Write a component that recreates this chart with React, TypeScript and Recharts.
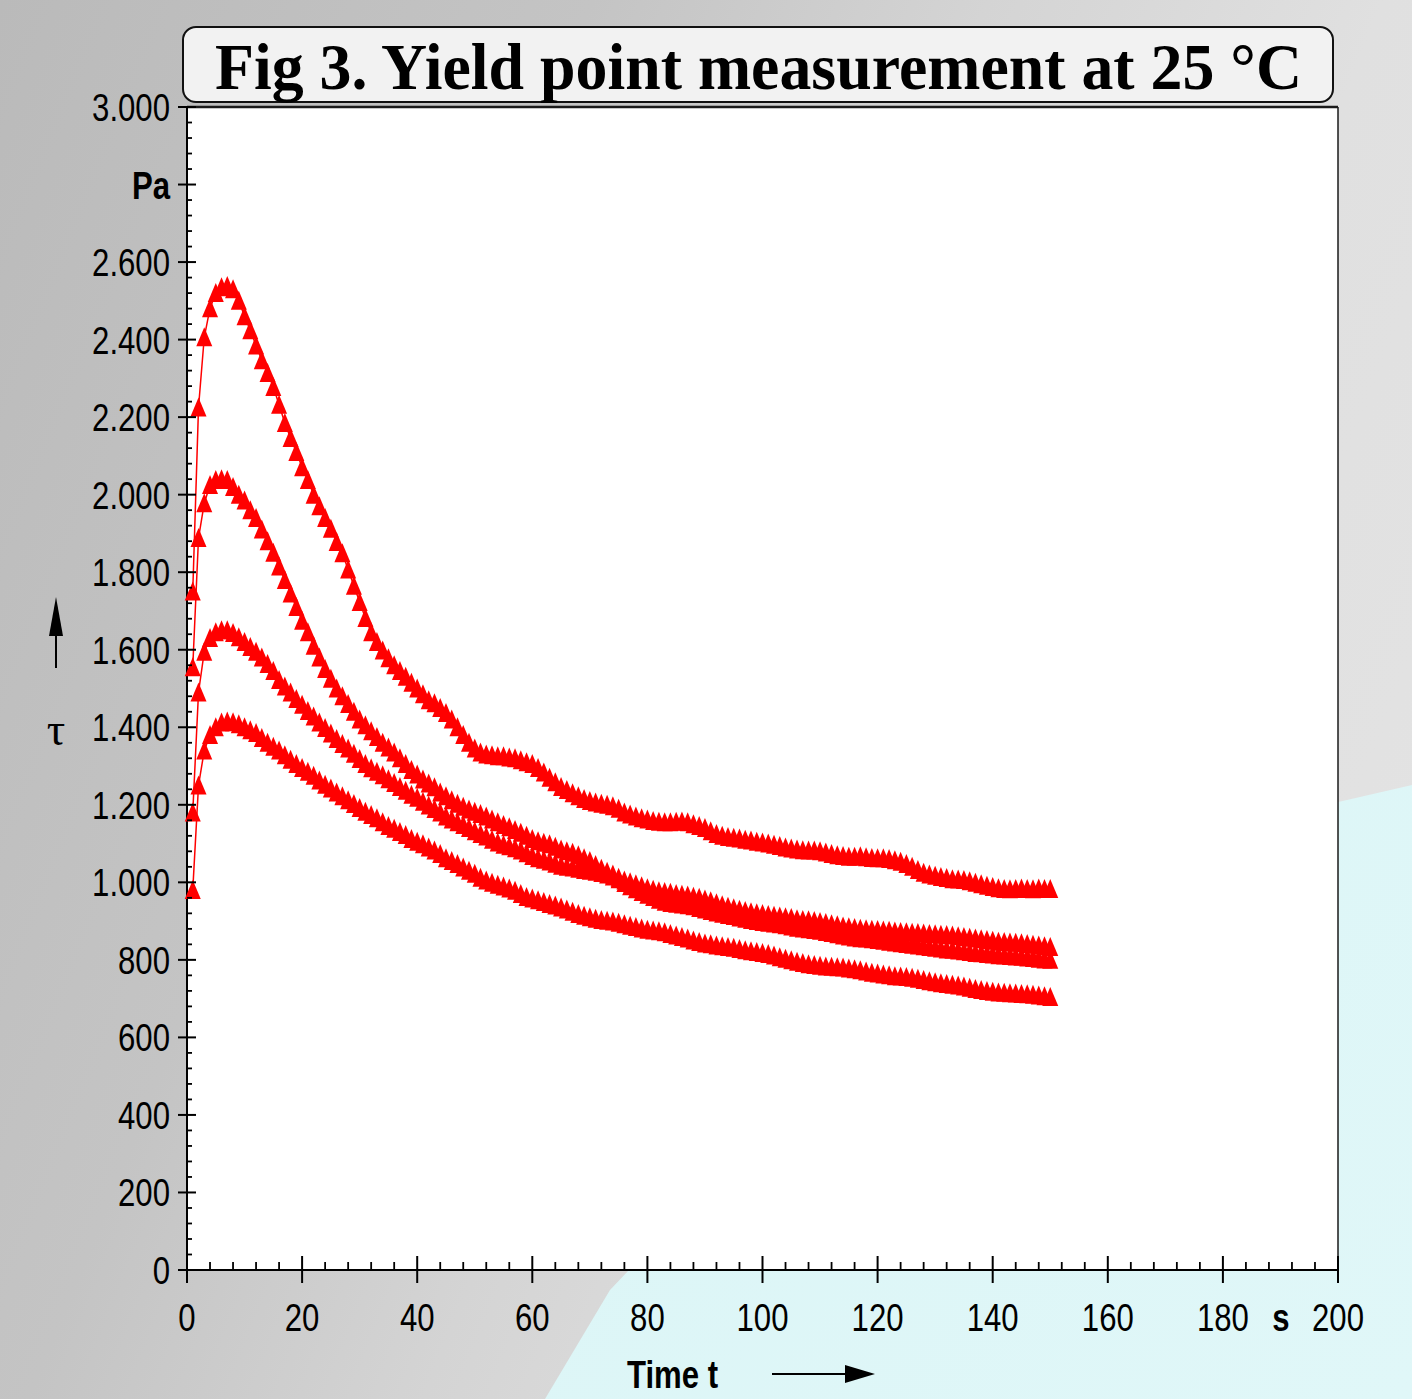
import React from "react";
import { LineChart, Line, XAxis, YAxis, CartesianGrid, ReferenceLine } from "recharts";

// time in s
const TIME = [
  1, 2, 3, 4, 5, 6, 7, 8, 9, 10, 11, 12, 13, 14, 15, 16, 17, 18, 19, 20,
  21, 22, 23, 24, 25, 26, 27, 28, 29, 30, 31, 32, 33, 34, 35, 36, 37, 38, 39, 40,
  41, 42, 43, 44, 45, 46, 47, 48, 49, 50, 51, 52, 53, 54, 55, 56, 57, 58, 59, 60,
  61, 62, 63, 64, 65, 66, 67, 68, 69, 70, 71, 72, 73, 74, 75, 76, 77, 78, 79, 80,
  81, 82, 83, 84, 85, 86, 87, 88, 89, 90, 91, 92, 93, 94, 95, 96, 97, 98, 99, 100,
  101, 102, 103, 104, 105, 106, 107, 108, 109, 110, 111, 112, 113, 114, 115, 116, 117, 118, 119, 120,
  121, 122, 123, 124, 125, 126, 127, 128, 129, 130, 131, 132, 133, 134, 135, 136, 137, 138, 139, 140,
  141, 142, 143, 144, 145, 146, 147, 148, 149, 150,
];

// shear stress tau in Pa, four runs
const RUN_1 = [
  980, 1250, 1340, 1380, 1400, 1412, 1415, 1413, 1408, 1400,
  1392, 1385, 1372, 1360, 1350, 1340, 1328, 1316, 1305, 1295,
  1285, 1275, 1263, 1252, 1242, 1232, 1222, 1212, 1202, 1192,
  1182, 1174, 1165, 1155, 1145, 1138, 1130, 1122, 1112, 1105,
  1098, 1090, 1082, 1073, 1062, 1055, 1047, 1038, 1030, 1022,
  1012, 1005, 999, 994, 989, 984, 978, 970, 962, 958,
  954, 949, 944, 940, 935, 930, 924, 918, 914, 910,
  906, 903, 901, 899, 896, 892, 888, 885, 881, 878,
  876, 874, 871, 867, 863, 859, 855, 850, 846, 842,
  840, 837, 835, 833, 831, 828, 825, 822, 820, 818,
  815, 811, 807, 803, 799, 795, 792, 789, 787, 785,
  783, 782, 781, 780, 778, 776, 773, 770, 767, 765,
  762, 760, 758, 757, 756, 754, 751, 748, 745, 742,
  740, 738, 736, 734, 731, 728, 725, 722, 720, 718,
  716, 715, 714, 713, 712, 711, 710, 708, 706, 704,
];

const RUN_2 = [
  1180, 1490, 1595, 1630, 1645, 1650, 1650, 1643, 1632, 1620,
  1607, 1595, 1580, 1563, 1545, 1522, 1505, 1490, 1473, 1458,
  1442, 1428, 1412, 1398, 1384, 1370, 1357, 1345, 1332, 1318,
  1305, 1294, 1285, 1276, 1266, 1256, 1246, 1236, 1226, 1218,
  1208, 1198, 1189, 1180, 1170, 1162, 1155, 1148, 1140, 1132,
  1125, 1118, 1110, 1103, 1097, 1093, 1088, 1082, 1075, 1068,
  1062, 1058, 1054, 1048, 1043, 1040, 1038, 1035, 1032, 1030,
  1027, 1024, 1020, 1015, 1008, 998, 990, 982, 975, 968,
  962, 955, 950, 947, 945, 943, 941, 938, 934, 930,
  926, 922, 919, 916, 913, 909, 906, 903, 900, 898,
  896, 894, 892, 889, 886, 883, 881, 879, 877, 875,
  872, 869, 866, 863, 860, 858, 856, 855, 853, 851,
  849, 847, 845, 843, 841, 839, 837, 835, 833, 831,
  829, 827, 826, 824, 822, 820, 818, 817, 815, 814,
  812, 811, 810, 809, 808, 806, 805, 803, 801, 800,
];

const RUN_3 = [
  1555, 1888, 1978, 2025, 2038, 2040, 2038, 2020, 2000, 1985,
  1960, 1940, 1910, 1880, 1850, 1815, 1780, 1745, 1710, 1675,
  1645, 1610, 1580, 1550, 1525, 1500, 1480, 1460, 1440, 1420,
  1405, 1390, 1375, 1360, 1348, 1335, 1320, 1305, 1290, 1278,
  1265, 1255, 1245, 1232, 1222, 1212, 1203, 1195, 1188, 1182,
  1176, 1170, 1162, 1155, 1148, 1142, 1135, 1128, 1120, 1112,
  1106, 1102, 1098, 1092, 1085, 1080, 1076, 1070, 1062, 1055,
  1045, 1035, 1027, 1020, 1012, 1005, 1000, 995, 990, 985,
  981, 977, 975, 973, 970, 968, 966, 963, 960, 956,
  951, 946, 941, 937, 933, 929, 926, 923, 920, 918,
  916, 914, 912, 910, 908, 905, 903, 902, 900, 898,
  895, 892, 889, 886, 884, 882, 880, 879, 878, 877,
  876, 875, 873, 872, 871, 870, 869, 868, 867, 866,
  865, 864, 863, 861, 859, 857, 855, 853, 851, 849,
  847, 846, 845, 844, 843, 841, 839, 837, 835, 833,
];

const RUN_4 = [
  1750, 2225, 2406, 2481, 2520, 2535, 2538, 2530, 2500, 2460,
  2424, 2385, 2347, 2314, 2278, 2232, 2185, 2146, 2110, 2071,
  2038, 2000, 1970, 1940, 1912, 1878, 1849, 1807, 1765, 1723,
  1682, 1645, 1620, 1598, 1578, 1560, 1545, 1530, 1515, 1500,
  1485, 1470, 1462, 1450, 1437, 1420, 1400, 1380, 1360, 1345,
  1335, 1330, 1328, 1325, 1325, 1322, 1320, 1315, 1310, 1305,
  1295, 1283, 1270, 1258, 1246, 1238, 1230, 1222, 1215, 1210,
  1206, 1203, 1200, 1196, 1190, 1180, 1175, 1170, 1165, 1162,
  1158, 1156, 1155, 1155, 1156, 1157, 1155, 1150, 1145, 1140,
  1132, 1125, 1120, 1117, 1115, 1113, 1110, 1108, 1105, 1103,
  1100, 1097, 1094, 1090, 1087, 1085, 1083, 1082, 1082, 1080,
  1077, 1073, 1070, 1068, 1066, 1066, 1067, 1065, 1063, 1062,
  1062, 1060, 1057, 1053, 1047, 1040, 1032, 1025, 1020, 1017,
  1014, 1011, 1008, 1007, 1006, 1003, 999, 995, 991, 988,
  985, 983, 982, 983, 984, 983, 982, 984, 983, 983,
];

const Y_MAJOR = [0, 200, 400, 600, 800, 1000, 1200, 1400, 1600, 1800, 2000, 2200, 2400, 2600, 2800, 3000];
const Y_LABELS = ["0", "200", "400", "600", "800", "1.000", "1.200", "1.400", "1.600", "1.800", "2.000", "2.200", "2.400", "2.600", "Pa", "3.000"];
const X_MAJOR = [0, 20, 40, 60, 80, 100, 120, 140, 160, 180, 200];
const X_LABELS = ["0", "20", "40", "60", "80", "100", "120", "140", "160", "180", "200"];
const Y_STEP_MINOR = 40;
const X_STEP_MINOR = 4;

const Y_TICKS = Array.from({ length: 3000 / Y_STEP_MINOR + 1 }, (_, i) => i * Y_STEP_MINOR);
const X_TICKS = Array.from({ length: 200 / X_STEP_MINOR + 1 }, (_, i) => i * X_STEP_MINOR);

const data = TIME.map((t, i) => ({ t, r1: RUN_1[i], r2: RUN_2[i], r3: RUN_3[i], r4: RUN_4[i] }));

const SANS = "'Liberation Sans', Arial, sans-serif";
const SERIF = "'Liberation Serif', 'Times New Roman', serif";
const RED = "#ff0000";
const NARROW_SCALE = 0.82;

// condensed text: Liberation Sans squeezed horizontally (Arial Narrow look)
const NText = (p: any) => {
  const { x, y, anchor = "start", bold = false, size = 38, children } = p;
  return (
    <text
      transform={`translate(${x},${y}) scale(${NARROW_SCALE},1)`}
      x={0}
      y={0}
      textAnchor={anchor}
      fontFamily={SANS}
      fontSize={size}
      fontWeight={bold ? "bold" : "normal"}
      fill="#000"
    >
      {children}
    </text>
  );
};

const YTick = (props: any) => {
  const { x, y, payload } = props;
  const v = payload.value;
  const idx = Y_MAJOR.indexOf(v);
  if (idx < 0) {
    return <line x1={x} x2={x + 5} y1={y} y2={y} stroke="#000" strokeWidth={1.8} />;
  }
  const label = Y_LABELS[idx];
  return (
    <g>
      <line x1={x - 9} x2={x + 9} y1={y} y2={y} stroke="#000" strokeWidth={2} />
      <NText x={x - 17} y={y + 14} anchor="end" bold={label === "Pa"}>
        {label}
      </NText>
    </g>
  );
};

const XTick = (props: any) => {
  const { x, y, payload } = props;
  const v = payload.value;
  const idx = X_MAJOR.indexOf(v);
  if (idx < 0) {
    return <line x1={x} x2={x} y1={y - 8} y2={y} stroke="#000" strokeWidth={1.8} />;
  }
  return (
    <g>
      <line x1={x} x2={x} y1={y - 14} y2={y + 13} stroke="#000" strokeWidth={2} />
      <NText x={x} y={y + 61} anchor="middle">
        {X_LABELS[idx]}
      </NText>
    </g>
  );
};

const Tri = (props: any) => {
  const { cx, cy, index } = props;
  if (cx == null || cy == null) return <g key={index} />;
  return (
    <path
      key={index}
      d={`M${cx},${cy - 10} L${cx + 8},${cy + 9} L${cx - 8},${cy + 9} Z`}
      fill={RED}
      stroke="none"
    />
  );
};

export default function App() {
  return (
    <div
      style={{
        position: "absolute",
        left: 0,
        top: 0,
        width: 1412,
        height: 1399,
        overflow: "hidden",
        background: "linear-gradient(112deg, #bababa 0%, #c4c4c4 30%, #d4d4d4 50%, #e0e0e0 70%, #e4e4e4 100%)",
      }}
    >
      <div
        style={{
          position: "absolute",
          left: 0,
          top: 0,
          width: 1412,
          height: 1399,
          background: "linear-gradient(135deg, #d6f3f4 0%, #e0f7f8 100%)",
          clipPath: "polygon(545px 1399px, 610px 1290px, 1000px 880px, 1412px 785px, 1412px 1399px)",
        }}
      />
      <div style={{ position: "absolute", left: 0, top: 0 }}>
        <LineChart
          width={1412}
          height={1399}
          data={data}
          margin={{ top: 107, right: 74, bottom: 69, left: 107 }}
        >
          <CartesianGrid fill="#ffffff" horizontal={false} vertical={false} />
          <XAxis
            dataKey="t"
            type="number"
            domain={[0, 200]}
            ticks={X_TICKS}
            interval={0}
            height={60}
            tickSize={0}
            tickMargin={0}
            tickLine={false}
            axisLine={{ stroke: "#000", strokeWidth: 2 }}
            tick={<XTick />}
          />
          <YAxis
            type="number"
            domain={[0, 3000]}
            ticks={Y_TICKS}
            interval={0}
            width={80}
            tickSize={0}
            tickMargin={0}
            tickLine={false}
            axisLine={{ stroke: "#000", strokeWidth: 2 }}
            tick={<YTick />}
          />
          <ReferenceLine y={3000} stroke="#1a1a1a" strokeWidth={2.5} />
          <ReferenceLine x={200} stroke="#1a1a1a" strokeWidth={1.5} />
          <Line dataKey="r1" stroke={RED} strokeWidth={1.5} dot={Tri} activeDot={false} isAnimationActive={false} />
          <Line dataKey="r2" stroke={RED} strokeWidth={1.5} dot={Tri} activeDot={false} isAnimationActive={false} />
          <Line dataKey="r3" stroke={RED} strokeWidth={1.5} dot={Tri} activeDot={false} isAnimationActive={false} />
          <Line dataKey="r4" stroke={RED} strokeWidth={1.5} dot={Tri} activeDot={false} isAnimationActive={false} />
        </LineChart>
      </div>
      <svg
        width={1412}
        height={1399}
        style={{ position: "absolute", left: 0, top: 0, pointerEvents: "none" }}
      >
        <rect x={183} y={27} width={1150} height={75} rx={13} ry={13} fill="#f2f2f2" stroke="#111" strokeWidth={2} />
        <text
          x={215}
          y={89}
          fontFamily={SERIF}
          fontWeight="bold"
          fontSize={66}
          textLength={1087}
          lengthAdjust="spacingAndGlyphs"
          fill="#000"
        >
          Fig 3. Yield point measurement at 25 °C
        </text>
        <NText x={1281} y={1331} anchor="middle" bold>
          s
        </NText>
        <NText x={627} y={1388} bold>
          Time t
        </NText>
        <line x1={772} y1={1374} x2={848} y2={1374} stroke="#000" strokeWidth={2} />
        <path d="M845,1365 L875,1374 L845,1383 Z" fill="#000" />
        <line x1={56} y1={668} x2={56} y2={630} stroke="#000" strokeWidth={2} />
        <path d="M49,636 L56,597 L63,636 Z" fill="#000" />
        <text x={56} y={745} textAnchor="middle" fontFamily={SERIF} fontSize={46} fill="#000">
          τ
        </text>
      </svg>
    </div>
  );
}
